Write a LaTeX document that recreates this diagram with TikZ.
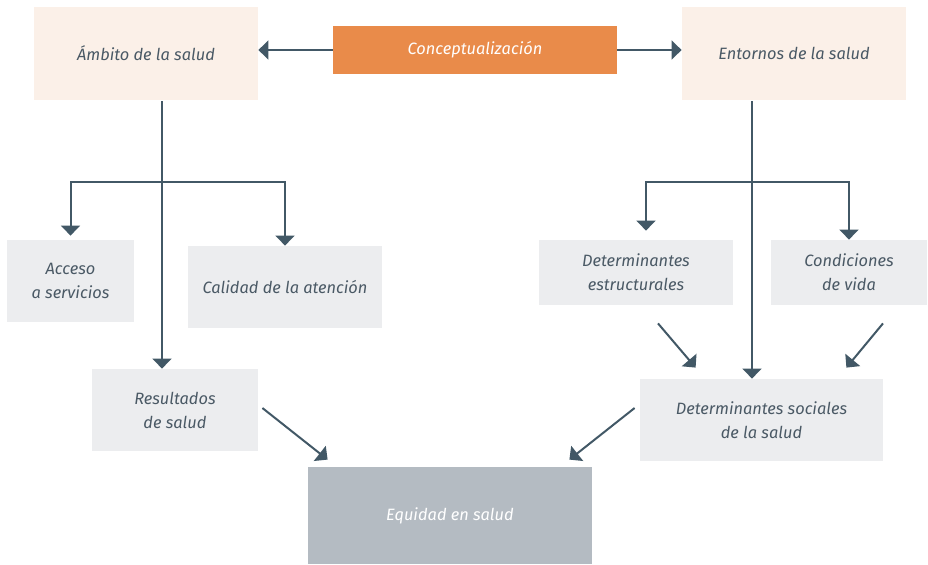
\documentclass[tikz,border=0pt]{standalone}
\usepackage{fontspec}
\setmainfont{Fira Sans}
\usepackage{tikz}
\usetikzlibrary{arrows.meta,shapes,positioning}
\usepackage{xcolor}
\definecolor{mslate}{RGB}{66,88,102}
\definecolor{mtext}{RGB}{74,89,101}
\definecolor{morange}{RGB}{233,139,74}
\definecolor{mpeach}{RGB}{251,240,232}
\definecolor{mlightgray}{RGB}{236,237,239}
\definecolor{mgray}{RGB}{180,187,194}
\tikzstyle{arrow} = [line width=1pt,-{Triangle[width=9.5pt,length=5pt]},color=mslate]
\tikzstyle{block} = [rectangle, inner sep=0pt, align=center, text=mtext, fill=mlightgray, font=\fontsize{8.2}{12}\selectfont\itshape]

\begin{document}
\begin{tikzpicture}[x=0.5pt, y=-0.5pt]
\useasboundingbox (0,0) rectangle (928,564);
% Top row
\node (concept) [block, minimum width=142pt, minimum height=24pt, fill=morange, text=white] at (475,50) {Conceptualización};
\node (ambito) [block, minimum width=112pt, minimum height=46.5pt, fill=mpeach] at (146,53.5) {Ámbito de la salud};
\node (entornos) [block, minimum width=112pt, minimum height=46.5pt, fill=mpeach] at (794,53.5) {Entornos de la salud};

% Left branch
\node (acceso) [block, minimum width=63.5pt, minimum height=41pt] at (70.5,281) {Acceso\\a servicios};
\node (calidad) [block, minimum width=97pt, minimum height=41pt] at (285,287) {Calidad de la atención};
\node (resultados) [block, minimum width=83pt, minimum height=41pt] at (175,410) {Resultados\\de salud};

% Right branch
\node (estructurales) [block, minimum width=97pt, minimum height=32.5pt] at (636,272.5) {Determinantes\\estructurales};
\node (condiciones) [block, minimum width=78pt, minimum height=32.5pt] at (849,272.5) {Condiciones\\de vida};
\node (sociales) [block, minimum width=121.5pt, minimum height=41pt] at (761.5,420) {Determinantes sociales\\de la salud};

% Result
\node (equidad) [block, minimum width=142pt, minimum height=48.5pt, fill=mgray, text=white] at (450,515.5) {Equidad en salud};

\coordinate (ambtrunk) at (162,182);
\coordinate (enttrunk) at (752,182);

\draw[arrow] (concept) -- (ambito.east |- concept);
\draw[arrow] (concept) -- (entornos.west |- concept);

\draw[arrow] ([yshift=-0.5pt]ambito.south -| ambtrunk) -- (resultados.north -| ambtrunk);
\draw[arrow, shorten >=2pt] (ambtrunk) -| (acceso.north);
\draw[arrow] (ambtrunk) -| (calidad.north);

\draw[arrow] ([yshift=-0.5pt]entornos.south -| enttrunk) -- (sociales.north -| enttrunk);
\draw[arrow, shorten >=4.5pt] (enttrunk) -| ([xshift=5pt]estructurales.north);
\draw[arrow] (enttrunk) -| (condiciones.north);

\draw[arrow] ([xshift=11pt,yshift=-9pt]estructurales.south) -- ([xshift=28pt,yshift=5.5pt]sociales.north west);
\draw[arrow] ([xshift=17pt,yshift=-9pt]condiciones.south) -- ([xshift=-18.5pt,yshift=5.5pt]sociales.north east);
\draw[arrow] ([xshift=2pt,yshift=1pt]resultados.east) -- ([xshift=10pt,yshift=3.5pt]equidad.north west);
\draw[arrow] ([xshift=-2.5pt,yshift=6pt]sociales.west) -- ([xshift=-11.5pt,yshift=3.5pt]equidad.north east);
\end{tikzpicture}
\end{document}
